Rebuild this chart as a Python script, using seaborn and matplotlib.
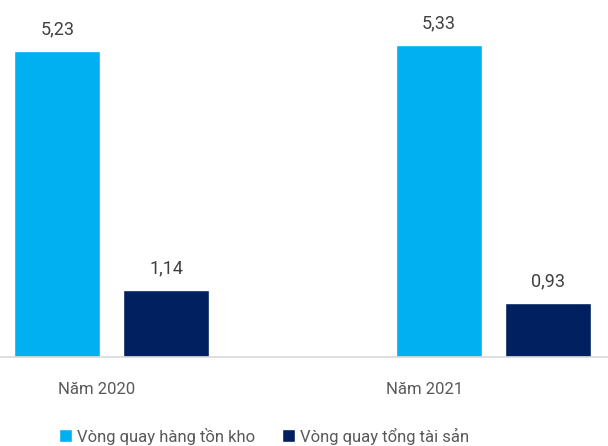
import matplotlib
matplotlib.use("Agg")
import matplotlib.pyplot as plt
import matplotlib.transforms as mtransforms
from matplotlib.patches import Patch
import seaborn as sns
import pandas as pd

categories = ["Năm 2020", "Năm 2021"]
series = ["Vòng quay hàng tồn kho", "Vòng quay tổng tài sản"]
inventory_turnover = [5.23, 5.33]
asset_turnover = [1.14, 0.93]
colors = ["#00B0F0", "#002060"]

df = pd.DataFrame({
    "cat": categories * 2,
    "series": [series[0]] * 2 + [series[1]] * 2,
    "value": inventory_turnover + asset_turnover,
})

sns.set_theme(style="white")
plt.rcParams["font.family"] = ["Roboto", "DejaVu Sans"]

fig = plt.figure(figsize=(6.08, 4.46), dpi=100)
ax = fig.add_axes([0, (446 - 357) / 446, 1, 351 / 446])

sns.barplot(data=df, x="cat", y="value", hue="series", palette=colors,
            width=0.571, gap=0.21, ax=ax, legend=False, saturation=1)

ax.set_xlim(-0.293, 1.301)
ax.set_ylim(0, 6)
ax.set_xlabel("")
ax.set_ylabel("")
ax.set_yticks([])
ax.set_xticks([])
for s in ["top", "left", "right"]:
    ax.spines[s].set_visible(False)
ax.spines["bottom"].set_color("#D9D9D9")
ax.spines["bottom"].set_linewidth(1.2)

for cont in ax.containers:
    vals = cont.datavalues
    ax.bar_label(cont, labels=[f"{v:.2f}".replace(".", ",") for v in vals],
                 padding=9, fontsize=13, color="#404040")

# category labels (placed as in the reference, left of group centers)
trans = mtransforms.blended_transform_factory(ax.transData, fig.transFigure)
label_x = [-0.039, 0.820]
for x, c in zip(label_x, categories):
    ax.text(x, 1 - 389 / 446, c, transform=trans, ha="center", va="center",
            fontsize=12, color="#595959")

handles = [Patch(facecolor=colors[0]), Patch(facecolor=colors[1])]
fig.legend(handles, series, loc="center left",
           bbox_to_anchor=(59 / 608, 1 - 436 / 446), ncol=2, frameon=False,
           fontsize=12, labelcolor="#595959", handlelength=0.8,
           handleheight=0.8, handletextpad=0.3, columnspacing=1.6,
           borderpad=0, borderaxespad=0)

fig.savefig("out.png", dpi=100)
